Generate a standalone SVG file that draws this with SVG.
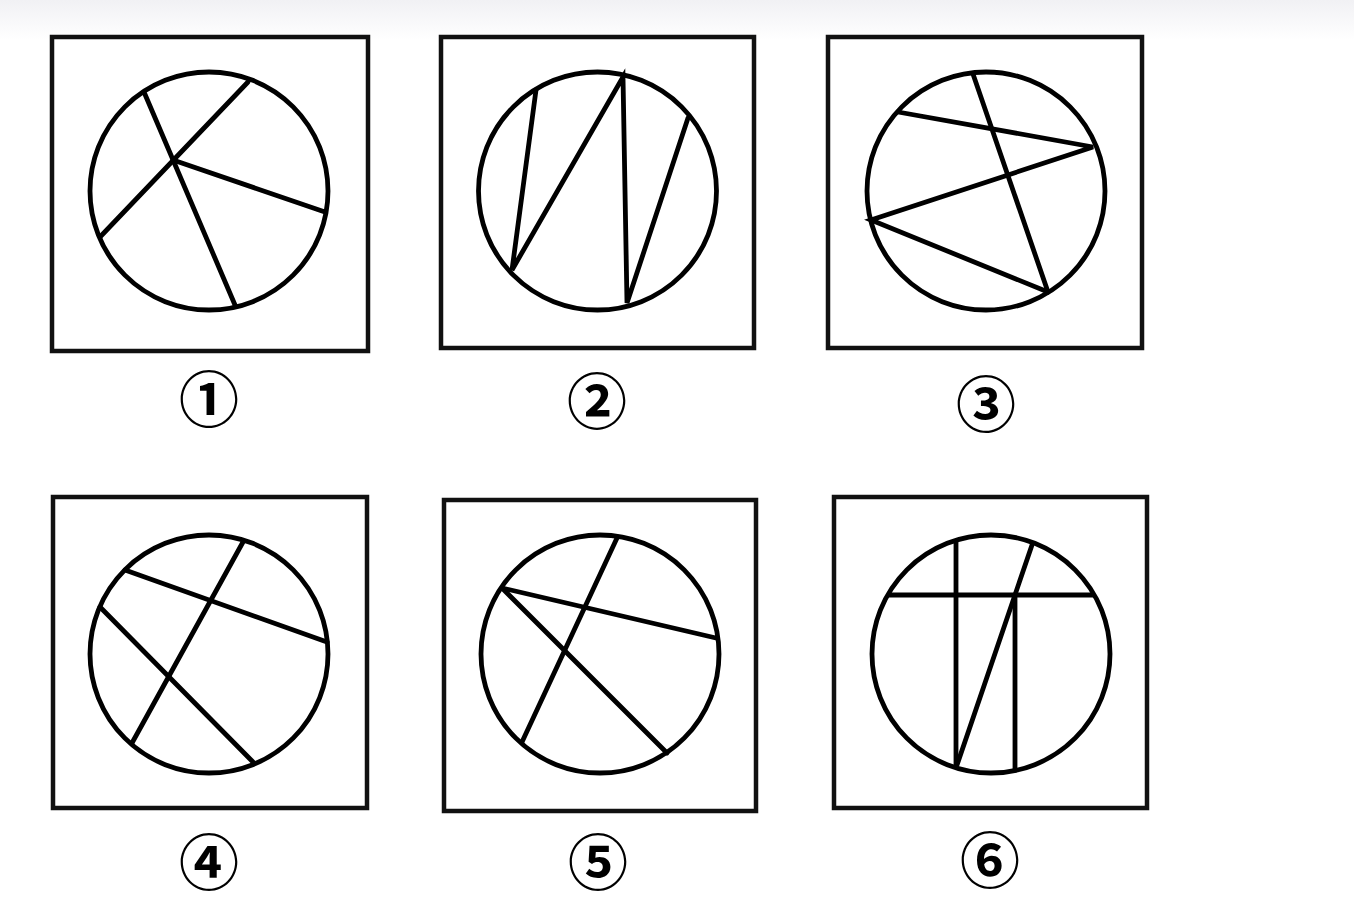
<svg xmlns="http://www.w3.org/2000/svg" width="1354" height="914" viewBox="0 0 1354 914">
<defs>
<linearGradient id="topfade" x1="0" y1="0" x2="0" y2="1">
<stop offset="0" stop-color="#f1f1f4"/>
<stop offset="1" stop-color="#ffffff"/>
</linearGradient>
</defs>
<style>
.frame{fill:#fff;stroke:#111;stroke-width:4.5}
.ring{fill:none;stroke:#000;stroke-width:4.8}
.ln{stroke:#000;stroke-width:4.8;stroke-linecap:round;fill:none}
.lab{font-family:"Noto Sans CJK SC","DejaVu Sans",sans-serif;font-size:60px;font-weight:bold;fill:#000;text-anchor:middle;dominant-baseline:central}
</style>
<rect width="1354" height="914" fill="#fff"/>
<rect width="1354" height="40" fill="url(#topfade)"/>

<g id="fig1">
<rect class="frame" x="52" y="37" width="316" height="314"/>
<circle class="ring" cx="209" cy="191" r="119"/>
<line class="ln" x1="144" y1="92" x2="235" y2="305"/>
<line class="ln" x1="248" y1="82" x2="100" y2="237"/>
<line class="ln" x1="173" y1="160" x2="325" y2="212"/>
<text class="lab" x="209" y="395">①</text>
</g>

<g id="fig2">
<rect class="frame" x="441" y="37" width="313" height="311"/>
<circle class="ring" cx="597.5" cy="191" r="119"/>
<polyline class="ln" points="536,90 512,270 623,77 627,303 688,118"/>
<text class="lab" x="597" y="397">②</text>
</g>

<g id="fig3">
<rect class="frame" x="828" y="37" width="314" height="311"/>
<circle class="ring" cx="986" cy="191" r="119"/>
<line class="ln" x1="973" y1="74" x2="1048" y2="292"/>
<polyline class="ln" points="898,112 1093,147 871,220 1048,292"/>
<text class="lab" x="986" y="400">③</text>
</g>

<g id="fig4">
<rect class="frame" x="53" y="497" width="314" height="311"/>
<circle class="ring" cx="209" cy="654" r="119"/>
<line class="ln" x1="125" y1="570" x2="327" y2="642"/>
<line class="ln" x1="243" y1="542" x2="132" y2="743"/>
<line class="ln" x1="100" y1="607" x2="253" y2="762"/>
<text class="lab" x="209" y="858">④</text>
</g>

<g id="fig5">
<rect class="frame" x="444" y="500" width="312" height="311"/>
<circle class="ring" cx="600" cy="654" r="119"/>
<line class="ln" x1="502" y1="588" x2="716" y2="638"/>
<line class="ln" x1="502" y1="588" x2="667" y2="753"/>
<line class="ln" x1="617" y1="538" x2="522" y2="742"/>
<text class="lab" x="598" y="858">⑤</text>
</g>

<g id="fig6">
<rect class="frame" x="834" y="497" width="313" height="311"/>
<circle class="ring" cx="991" cy="654" r="119"/>
<line class="ln" x1="889" y1="595" x2="1093" y2="595"/>
<line class="ln" x1="956" y1="542" x2="956" y2="765"/>
<line class="ln" x1="1015" y1="595" x2="1015" y2="770"/>
<line class="ln" x1="1032" y1="545" x2="957" y2="765"/>
<text class="lab" x="990" y="856">⑥</text>
</g>
</svg>
